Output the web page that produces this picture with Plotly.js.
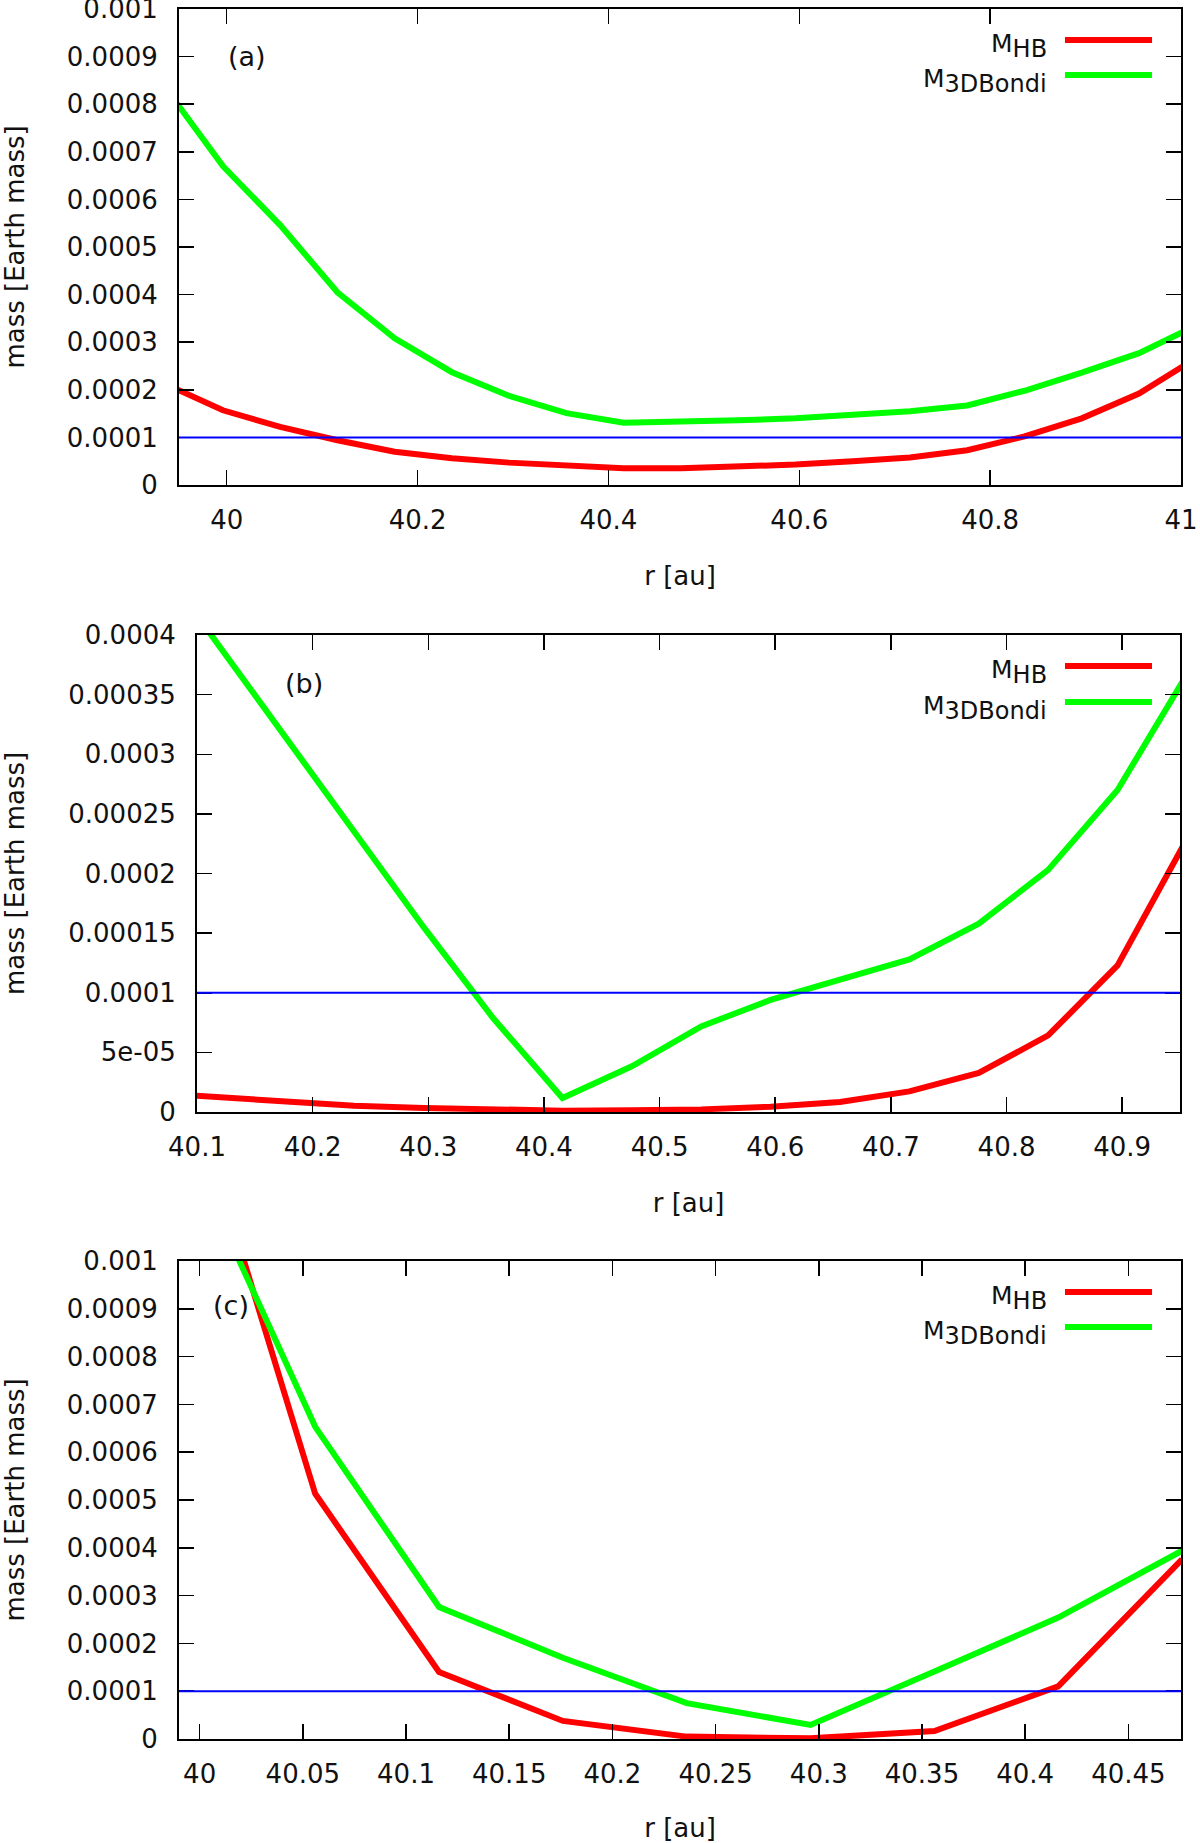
<!DOCTYPE html>
<html>
<head>
<meta charset="utf-8">
<script src="https://cdn.plot.ly/plotly-3.0.1.min.js"></script>
<style>
  html, body { margin: 0; padding: 0; background: #ffffff; }
  #chart { width: 1200px; height: 1843px; }
</style>
</head>
<body>
<div id="chart"></div>
<script>
// ---------- data ----------
// panel (a)
const rA = [39.936, 39.996, 40.056, 40.116, 40.176, 40.236, 40.296, 40.356, 40.416, 40.476,
            40.536, 40.596, 40.656, 40.716, 40.776, 40.836, 40.896, 40.956, 41.016];
const hbA = [0.000212, 0.000157, 0.000122, 0.000094, 0.000070, 0.000056, 0.000047, 0.000040, 0.000035, 0.000035,
             0.000038, 0.000043, 0.000050, 0.000058, 0.000073, 0.000102, 0.000140, 0.000192, 0.000267];
const bondiA = [0.000834, 0.000670, 0.000546, 0.000405, 0.000308, 0.000237, 0.000187, 0.000151, 0.000131, 0.000132,
                0.000136, 0.000140, 0.000148, 0.000155, 0.000167, 0.000198, 0.000236, 0.000277, 0.000335];

// panel (b)
const rB = [40.056, 40.116, 40.176, 40.236, 40.296, 40.356, 40.416, 40.476, 40.536, 40.596,
            40.656, 40.716, 40.776, 40.836, 40.896, 40.956];
const hbB = [0.0000162, 0.0000123, 0.0000084, 0.0000053, 0.0000034, 0.0000020, 0.0000011, 0.0000014, 0.0000022, 0.0000045,
             0.0000084, 0.0000173, 0.0000327, 0.0000642, 0.000123, 0.000229];
const bondiB = [0.000475, 0.000395, 0.000315, 0.000234, 0.000155, 0.0000788, 0.0000117, 0.0000383, 0.0000718, 0.000094,
                0.000111, 0.000128, 0.000158, 0.000203, 0.000270, 0.000367];

// panel (c)
const rC = [39.996, 40.056, 40.116, 40.176, 40.236, 40.296, 40.356, 40.416, 40.476];
const hbC = [0.00136, 0.000513, 0.000140, 0.0000378, 0.0000050, 0.0000014, 0.0000168, 0.000110, 0.000376];
const bondiC = [0.00122, 0.000653, 0.000276, 0.000170, 0.000075, 0.0000294, 0.000141, 0.000254, 0.000394];

// reference threshold level (horizontal blue line)
const threshold = 0.0001;

// axis ranges
const xRangeA = [39.95, 41.0];
const xRangeB = [40.1, 40.95];
const xRangeC = [39.99, 40.4755];
const yRangeA = [0, 0.001];
const yRangeB = [0, 0.0004];
const yRangeC = [0, 0.001];

// ticks
const xTicksA = [40, 40.2, 40.4, 40.6, 40.8, 41];
const xTickTextA = ['40', '40.2', '40.4', '40.6', '40.8', '41'];
const xTicksB = [40.1, 40.2, 40.3, 40.4, 40.5, 40.6, 40.7, 40.8, 40.9];
const xTickTextB = ['40.1', '40.2', '40.3', '40.4', '40.5', '40.6', '40.7', '40.8', '40.9'];
const xTicksC = [40, 40.05, 40.1, 40.15, 40.2, 40.25, 40.3, 40.35, 40.4, 40.45];
const xTickTextC = ['40', '40.05', '40.1', '40.15', '40.2', '40.25', '40.3', '40.35', '40.4', '40.45'];
const yTicksAC = [0, 0.0001, 0.0002, 0.0003, 0.0004, 0.0005, 0.0006, 0.0007, 0.0008, 0.0009, 0.001];
const yTickTextAC = ['0', '0.0001', '0.0002', '0.0003', '0.0004', '0.0005', '0.0006', '0.0007', '0.0008', '0.0009', '0.001'];
const yTicksB = [0, 0.00005, 0.0001, 0.00015, 0.0002, 0.00025, 0.0003, 0.00035, 0.0004];
const yTickTextB = ['0', '5e-05', '0.0001', '0.00015', '0.0002', '0.00025', '0.0003', '0.00035', '0.0004'];

const panelLabels = ['(a)', '(b)', '(c)'];
const seriesNames = ['M<sub><span style="font-size:24px">HB</span></sub>',
                     'M<sub><span style="font-size:24px">3DBondi</span></sub>'];
const xTitle = 'r [au]';
const yTitle = 'mass [Earth mass]';

// ---------- style ----------
const RED = '#ff0000', GREEN = '#00ff00', BLUE = '#0000ff';
const FONT = 'DejaVu Sans, Liberation Sans, sans-serif';

function line(x, y, color, width, xa, ya) {
  return { x: x, y: y, xaxis: xa, yaxis: ya, type: 'scatter', mode: 'lines',
           line: { color: color, width: width }, showlegend: false, hoverinfo: 'skip' };
}

const traces = [
  line(rA, hbA, RED, 6, 'x', 'y'),
  line(rA, bondiA, GREEN, 6, 'x', 'y'),
  line(rB, hbB, RED, 6, 'x2', 'y2'),
  line(rB, bondiB, GREEN, 6, 'x2', 'y2'),
  line(rC, hbC, RED, 6, 'x3', 'y3'),
  line(rC, bondiC, GREEN, 6, 'x3', 'y3')
];

function xAxis(domain, range, vals, text, anchor) {
  return {
    domain: domain, range: range, anchor: anchor,
    tickmode: 'array', tickvals: vals, ticktext: text,
    showline: true, linecolor: '#000', linewidth: 2, mirror: 'ticks',
    ticks: 'inside', ticklen: 15, tickwidth: 1.5, tickcolor: '#000',
    showgrid: false, zeroline: false,
    tickfont: { family: FONT, size: 26, color: '#111' },
    ticklabelstandoff: 11, ticklabeloverflow: 'allow',
    title: { text: xTitle, font: { family: FONT, size: 26, color: '#111' }, standoff: 33 }
  };
}
function yAxis(domain, range, vals, text, anchor) {
  return {
    domain: domain, range: range, anchor: anchor,
    tickmode: 'array', tickvals: vals, ticktext: text,
    showline: true, linecolor: '#000', linewidth: 2, mirror: 'ticks',
    ticks: 'inside', ticklen: 15, tickwidth: 1.5, tickcolor: '#000',
    showgrid: false, zeroline: false,
    tickfont: { family: FONT, size: 26, color: '#111' },
    ticklabelstandoff: 14, ticklabeloverflow: 'allow',
    title: { text: yTitle, font: { family: FONT, size: 26, color: '#111' }, standoff: 40 }
  };
}

const domAC = [179 / 1200, 1181 / 1200];
const domB = [197 / 1200, 1180 / 1200];
const H = 1843;
const dyA = [1 - 485 / H, 1 - 9 / H];
const dyB = [1 - 1112 / H, 1 - 635 / H];
const dyC = [1 - 1739 / H, 1 - 1261 / H];

const shapes = [];
const annotations = [];
const refs = [['x', 'y'], ['x2', 'y2'], ['x3', 'y3']];
const legendX0 = [0.8842, 0.883, 0.8842];
const legendX1 = [0.9711, 0.9715, 0.9711];
const legendTextX = [0.868, 0.8667, 0.868];
const legendY = [[0.935, 0.8613], [0.935, 0.8595], [0.935, 0.862]];
const labelPos = [[0.068, 0.900], [0.109, 0.899], [0.052, 0.906]];

refs.forEach(function (r, i) {
  // threshold line across the full width of the panel, drawn above the frame ticks
  shapes.push({ type: 'line', xref: r[0] + ' domain', yref: r[1], x0: 0, x1: 1,
                y0: threshold, y1: threshold, line: { color: BLUE, width: 2 }, layer: 'above' });
  // legend samples (drawn to the right of the text, as in the reference)
  [RED, GREEN].forEach(function (c, k) {
    shapes.push({ type: 'line', xref: r[0] + ' domain', yref: r[1] + ' domain',
                  x0: legendX0[i], x1: legendX1[i], y0: legendY[i][k], y1: legendY[i][k],
                  line: { color: c, width: 6 } });
    annotations.push({ xref: r[0] + ' domain', yref: r[1] + ' domain',
                       x: legendTextX[i], y: legendY[i][k] - 0.012, xanchor: 'right', yanchor: 'middle',
                       text: seriesNames[k], showarrow: false,
                       font: { family: FONT, size: 25, color: '#111' } });
  });
  annotations.push({ xref: r[0] + ' domain', yref: r[1] + ' domain',
                     x: labelPos[i][0], y: labelPos[i][1], xanchor: 'center', yanchor: 'middle',
                     text: panelLabels[i], showarrow: false,
                     font: { family: FONT, size: 27, color: '#111' } });
});

const layout = {
  width: 1200, height: 1843, autosize: false,
  margin: { l: 0, r: 0, t: 0, b: 0, pad: 0 },
  paper_bgcolor: '#ffffff', plot_bgcolor: '#ffffff',
  showlegend: false,
  xaxis: xAxis(domAC, xRangeA, xTicksA, xTickTextA, 'y'),
  yaxis: yAxis(dyA, yRangeA, yTicksAC, yTickTextAC, 'x'),
  xaxis2: xAxis(domB, xRangeB, xTicksB, xTickTextB, 'y2'),
  yaxis2: yAxis(dyB, yRangeB, yTicksB, yTickTextB, 'x2'),
  xaxis3: xAxis(domAC, xRangeC, xTicksC, xTickTextC, 'y3'),
  yaxis3: yAxis(dyC, yRangeC, yTicksAC, yTickTextAC, 'x3'),
  shapes: shapes,
  annotations: annotations
};

Plotly.newPlot('chart', traces, layout, { staticPlot: true, displayModeBar: false });
</script>
</body>
</html>
